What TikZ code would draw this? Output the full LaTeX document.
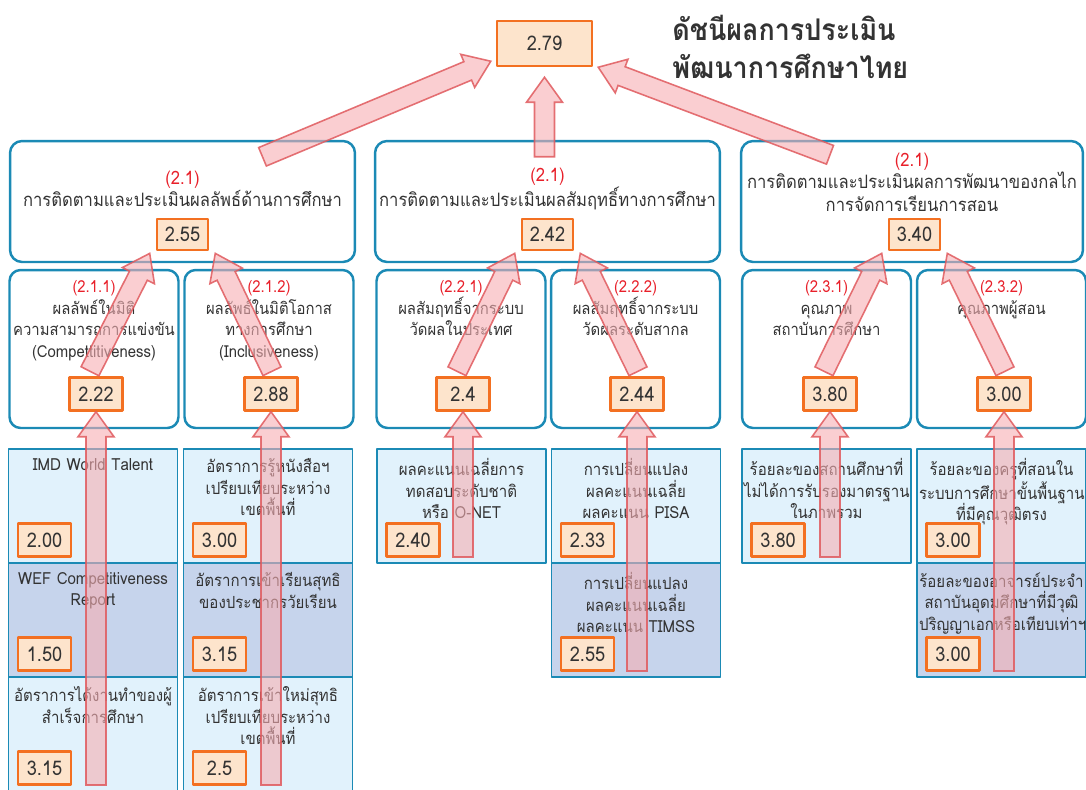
\documentclass[tikz,border=0pt]{standalone}
\usepackage{fontspec}
\setmainfont[Script=Thai,FakeStretch=0.9]{Loma}
\usetikzlibrary{calc,positioning}

\definecolor{ink}{HTML}{333333}
\definecolor{valfill}{HTML}{FDE4CC}
\definecolor{valdraw}{HTML}{F37021}
\definecolor{boxblue}{HTML}{1B8AB5}
\definecolor{celllight}{HTML}{E1F2FC}
\definecolor{celldark}{HTML}{C6D4EC}
\definecolor{tagred}{HTML}{E8202A}
\definecolor{arrowpink}{HTML}{F6AEB2}
\definecolor{arrowred}{HTML}{E05A5E}

% fat see-through arrow from #1 to #2
\newcommand\fatarrow[2]{%
  \path[fatarrow] let \p1=(#1), \p2=(#2),
      \n1={atan2(\y2-\y1,\x2-\x1)}, \n2={veclen(\x2-\x1,\y2-\y1)} in
    [shift={(\p1)},rotate=\n1]
    (0pt,-0.2cm) -- (\n2-0.5cm,-0.2cm) -- (\n2-0.5cm,-0.36cm) -- (\n2,0pt)
    -- (\n2-0.5cm,0.36cm) -- (\n2-0.5cm,0.2cm) -- (0pt,0.2cm) -- cycle;}

% indicator cell: name, x, y, fill, text, value
\newcommand\cellbox[6]{%
  \node[cell,fill=#4] (c#1) at (#2,#3) {};
  \node[celltext] (t#1) at ($(c#1.north)+(0,10)$) {#5};
  \node[valbox] (v#1) at ($(c#1.south west)+(37,-24)$) {#6};}

\begin{document}
\begin{tikzpicture}[x=0.02cm,y=-0.02cm,line join=round,
  valbox/.style={draw=valdraw,fill=valfill,line width=1.4pt,text=ink,inner sep=0pt,
    minimum width=1.06cm,minimum height=0.66cm,font=\fontsize{11.5}{12}\selectfont},
  grpbox/.style={draw=boxblue,line width=1.4pt,rounded corners=0.24cm,minimum height=2.42cm},
  subbox/.style={draw=boxblue,line width=1.4pt,rounded corners=0.22cm,
    minimum width=3.38cm,minimum height=3.16cm},
  cell/.style={draw=boxblue,line width=1.1pt,minimum width=3.38cm,minimum height=2.28cm},
  lbl/.style={text=ink,align=center,inner sep=0pt,font=\fontsize{10.5}{12.8}\selectfont},
  sublbl/.style={lbl,anchor=north,font=\fontsize{9.4}{12.4}\selectfont},
  celltext/.style={text=ink,align=center,inner sep=0pt,anchor=north,text width=3.3cm,
    font=\fontsize{9.5}{12.3}\selectfont},
  fatarrow/.style={draw=arrowred,fill=arrowpink,fill opacity=0.6,draw opacity=0.85,
    line width=0.9pt,line join=miter}]
  \useasboundingbox (0,0) rectangle (1086,789);

  % top index
  \node[valbox,minimum width=1.9cm,minimum height=0.9cm] (top) at (544.5,43.5) {2.79};
  \node[anchor=west,align=left,text=ink,inner sep=0pt,
    font=\fontsize{17}{21.5}\selectfont\bfseries] (title) at (672,47)
    {ดัชนีผลการประเมิน\\พัฒนาการศึกษาไทย};

  % level 1
  \node[grpbox,minimum width=6.9cm] (gA) at (182.5,201.5) {};
  \node[grpbox,minimum width=6.9cm] (gB) at (547.5,201.5) {};
  \node[grpbox,minimum width=6.84cm] (gC) at (912,201.5) {};
  \node[lbl] (tA) at (182.5,189) {\textcolor{tagred}{(2.1)}\\การติดตามและประเมินผลลัพธ์ด้านการศึกษา};
  \node[lbl] (tB) at (547.5,189) {\textcolor{tagred}{(2.1)}\\การติดตามและประเมินผลสัมฤทธิ์ทางการศึกษา};
  \node[lbl] (tC) at (912,182) {\textcolor{tagred}{(2.1)}\\การติดตามและประเมินผลการพัฒนาของกลไก\\การจัดการเรียนการสอน};
  \node[valbox,minimum width=1.02cm,minimum height=0.62cm] (vA) at (182.5,234.5) {2.55};
  \node[valbox,minimum width=1.02cm,minimum height=0.62cm] (vB) at (547.5,234.5) {2.42};
  \node[valbox,minimum width=1.02cm,minimum height=0.62cm] (vC) at (914.5,234.5) {3.40};

  % level 2
  \node[subbox] (sA1) at (94,349) {};
  \node[subbox] (sA2) at (269,349) {};
  \node[subbox] (sB1) at (461,349) {};
  \node[subbox] (sB2) at (635.5,349) {};
  \node[subbox] (sC1) at (826.5,349) {};
  \node[subbox] (sC2) at (1001.5,349) {};
  \node[sublbl] (tA1) at (94,280) {\textcolor{tagred}{(2.1.1)}\\ผลลัพธ์ในมิติ\\ความสามารถการแข่งขัน\\(Compettitiveness)};
  \node[sublbl] (tA2) at (269,280) {\textcolor{tagred}{(2.1.2)}\\ผลลัพธ์ในมิติโอกาส\\ทางการศึกษา\\(Inclusiveness)};
  \node[sublbl] (tB1) at (461,280) {\textcolor{tagred}{(2.2.1)}\\ผลสัมฤทธิ์จากระบบ\\วัดผลในประเทศ};
  \node[sublbl] (tB2) at (635.5,280) {\textcolor{tagred}{(2.2.2)}\\ผลสัมฤทธิ์จากระบบ\\วัดผลระดับสากล};
  \node[sublbl] (tC1) at (826.5,280) {\textcolor{tagred}{(2.3.1)}\\คุณภาพ\\สถาบันการศึกษา};
  \node[sublbl] (tC2) at (1001.5,280) {\textcolor{tagred}{(2.3.2)}\\คุณภาพผู้สอน};
  \node[valbox] (vA1) at (96,394) {2.22};
  \node[valbox] (vA2) at (271,394) {2.88};
  \node[valbox] (vB1) at (463,394) {2.4};
  \node[valbox] (vB2) at (637,394) {2.44};
  \node[valbox] (vC1) at (830,394) {3.80};
  \node[valbox] (vC2) at (1004,394) {3.00};

  % indicators
  \cellbox{A11}{93}{506}{celllight}{IMD World Talent}{2.00}
  \cellbox{A12}{93}{620}{celldark}{WEF Competitiveness\\Report}{1.50}
  \cellbox{A13}{93}{734}{celllight}{อัตราการได้งานทำของผู้\\สำเร็จการศึกษา}{3.15}
  \cellbox{A21}{268}{506}{celllight}{อัตราการรู้หนังสือฯ\\เปรียบเทียบระหว่าง\\เขตพื้นที่}{3.00}
  \cellbox{A22}{268}{620}{celldark}{อัตราการเข้าเรียนสุทธิ\\ของประชากรวัยเรียน}{3.15}
  \cellbox{A23}{268}{734}{celllight}{อัตราการเข้าใหม่สุทธิ\\เปรียบเทียบระหว่าง\\เขตพื้นที่}{2.5}
  \cellbox{B11}{461.5}{506}{celllight}{ผลคะแนนเฉลี่ยการ\\ทดสอบระดับชาติ\\หรือ O-NET}{2.40}
  \cellbox{B21}{636}{506}{celllight}{การเปลี่ยนแปลง\\ผลคะแนนเฉลี่ย\\ผลคะแนน PISA}{2.33}
  \cellbox{B22}{636}{620}{celldark}{การเปลี่ยนแปลง\\ผลคะแนนเฉลี่ย\\ผลคะแนน TIMSS}{2.55}
  \cellbox{C11}{826.5}{506}{celllight}{ร้อยละของสถานศึกษาที่\\ไม่ได้การรับรองมาตรฐาน\\ในภาพรวม}{3.80}
  \cellbox{C21}{1001.5}{506}{celllight}{ร้อยละของครูที่สอนใน\\ระบบการศึกษาขั้นพื้นฐาน\\ที่มีคุณวุฒิตรง}{3.00}
  \cellbox{C22}{1001.5}{620}{celldark}{ร้อยละของอาจารย์ประจำ\\สถาบันอุดมศึกษาที่มีวุฒิ\\ปริญญาเอกหรือเทียบเท่าฯ}{3.00}

  % arrow tails
  \coordinate (inA1) at ($(vA1.south |- cA13.south)+(0,-7)$);
  \coordinate (inA2) at ($(vA2.south |- cA23.south)+(0,-7)$);
  \coordinate (inB1) at ($(vB1.south |- cB11.south)+(0,-7)$);
  \coordinate (inB2) at ($(vB2.south |- cB22.south)+(0,-7)$);
  \coordinate (inC1) at ($(vC1.south |- cC11.south)+(0,-7)$);
  \coordinate (inC2) at ($(vC2.south |- cC22.south)+(0,-7)$);

  % arrows
  \fatarrow{inA1}{vA1.south}
  \fatarrow{inA2}{vA2.south}
  \fatarrow{inB1}{vB1.south}
  \fatarrow{inB2}{vB2.south}
  \fatarrow{inC1}{vC1.south}
  \fatarrow{inC2}{vC2.south}
  \fatarrow{$(vA1.north)+(-6,-5)$}{$(vA.south west)+(-6,2)$}
  \fatarrow{$(vA2.north)+(1,-5)$}{$(vA.south east)+(6,2)$}
  \fatarrow{$(vB1.north)+(-6,-5)$}{$(vB.south west)+(-6,2)$}
  \fatarrow{$(vB2.north)+(1,-5)$}{$(vB.south east)+(6,2)$}
  \fatarrow{$(vC1.north)+(-6,-5)$}{$(vC.south west)+(-6,2)$}
  \fatarrow{$(vC2.north)+(1,-5)$}{$(vC.south east)+(6,2)$}
  \fatarrow{$(gA.north)+(80,17)$}{$(top.south west)+(-5,-6)$}
  \fatarrow{$(gB.north)+(-3,17)$}{$(top.south)+(0,10)$}
  \fatarrow{$(gC.north)+(-82,15)$}{$(top.south east)+(5,0)$}
\end{tikzpicture}
\end{document}
